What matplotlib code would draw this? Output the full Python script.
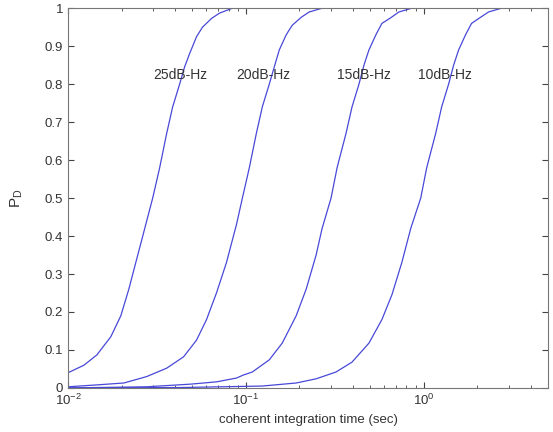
import matplotlib
matplotlib.use("Agg")
import matplotlib.pyplot as plt
from matplotlib.ticker import LogLocator, FixedLocator

plt.rcParams['font.family'] = ['Liberation Sans', 'DejaVu Sans']

# coherent integration time (sec) and detection probability
t_25 = [0.0100, 0.0123, 0.01453, 0.01741, 0.01981, 0.02197, 0.02404, 0.02598, 0.02879,
        0.02993, 0.03276, 0.03586, 0.03875, 0.04241, 0.04522, 0.04823, 0.05281, 0.05703,
        0.06409, 0.07105, 0.08404, 5.0]
pd_25 = [0.04, 0.06, 0.087, 0.135, 0.19, 0.26, 0.33, 0.39, 0.47, 0.50, 0.58, 0.67, 0.74,
         0.80, 0.845, 0.88, 0.925, 0.95, 0.973, 0.987, 1.0, 1.0]

t_20 = [0.0100, 0.01453, 0.02060, 0.02771, 0.03586, 0.04466, 0.05281, 0.06009, 0.06834,
        0.07776, 0.08404, 0.08851, 0.09559, 0.1046, 0.1145, 0.1237, 0.1354, 0.1444, 0.1541,
        0.1686, 0.1822, 0.2047, 0.2269, 0.2683, 5.0]
pd_20 = [0.003, 0.008, 0.013, 0.03, 0.052, 0.082, 0.126, 0.18, 0.25, 0.33, 0.39, 0.43,
         0.50, 0.58, 0.67, 0.74, 0.80, 0.845, 0.89, 0.93, 0.955, 0.976, 0.99, 1.0, 1.0]

t_15 = [0.0100, 0.02771, 0.04887, 0.06834, 0.08851, 0.09683, 0.1087, 0.1354, 0.1601,
        0.1918, 0.2183, 0.2483, 0.2683, 0.3013, 0.3258, 0.3656, 0.3952, 0.4324, 0.4613,
        0.4920, 0.5384, 0.5819, 0.6534, 0.7244, 0.8568, 5.0]
pd_15 = [0.0, 0.003, 0.01, 0.016, 0.026, 0.034, 0.042, 0.074, 0.118, 0.19, 0.26, 0.35,
         0.42, 0.50, 0.58, 0.67, 0.74, 0.80, 0.85, 0.89, 0.93, 0.96, 0.975, 0.99, 1.0, 1.0]

t_10 = [0.0100, 0.04241, 0.1237, 0.1918, 0.2483, 0.3214, 0.3952, 0.4920, 0.5819, 0.6622,
        0.7530, 0.8453, 0.9621, 1.0395, 1.1672, 1.2614, 1.3804, 1.4727, 1.5710, 1.7190,
        1.8578, 2.0855, 2.3128, 2.7353, 5.0]
pd_10 = [0.0, 0.001, 0.005, 0.013, 0.024, 0.042, 0.068, 0.118, 0.18, 0.245, 0.33, 0.42,
         0.50, 0.58, 0.67, 0.74, 0.80, 0.85, 0.89, 0.93, 0.96, 0.976, 0.99, 1.0, 1.0]

labels = ['25dB-Hz', '20dB-Hz', '15dB-Hz', '10dB-Hz']
label_t = [0.0300, 0.0880, 0.324, 0.932]
label_pd = [0.825, 0.825, 0.825, 0.825]

grey = '#444444'
fig = plt.figure(figsize=(5.53, 4.32), dpi=100, facecolor='w')
ax = fig.add_axes([0.123, 0.102, 0.868, 0.879])

for t, pd in [(t_25, pd_25), (t_20, pd_20), (t_15, pd_15), (t_10, pd_10)]:
    ax.plot(t, pd, color='#4848d8', linewidth=0.9)

for name, tx, ty in zip(labels, label_t, label_pd):
    ax.text(tx, ty, name, fontsize=10, color='#333333', va='center', ha='left')

ax.set_xscale('log')
ax.set_xlim(0.01, 5)
ax.set_ylim(0, 1)
ax.yaxis.set_major_locator(FixedLocator([i / 10 for i in range(11)]))
ax.set_yticklabels(['0'] + ['%.1f' % (i / 10) for i in range(1, 10)] + ['1'])
ax.xaxis.set_major_locator(LogLocator(base=10))
ax.xaxis.set_minor_locator(LogLocator(base=10, subs=range(2, 10)))

ax.tick_params(which='both', direction='in', top=True, right=True, colors=grey,
               labelsize=9.5, labelcolor='#333333')
ax.tick_params(which='major', length=4)
ax.tick_params(which='minor', length=2)
for s in ax.spines.values():
    s.set_color('#777777')
    s.set_linewidth(0.8)

ax.set_xlabel('coherent integration time (sec)', fontsize=9.5, color='#333333')
ax.set_ylabel(r'$\mathregular{P_D}$', fontsize=11, color='#333333')
ax.yaxis.set_label_coords(-0.09, 0.5)

plt.savefig('out.png', dpi=100)
plt.close()
